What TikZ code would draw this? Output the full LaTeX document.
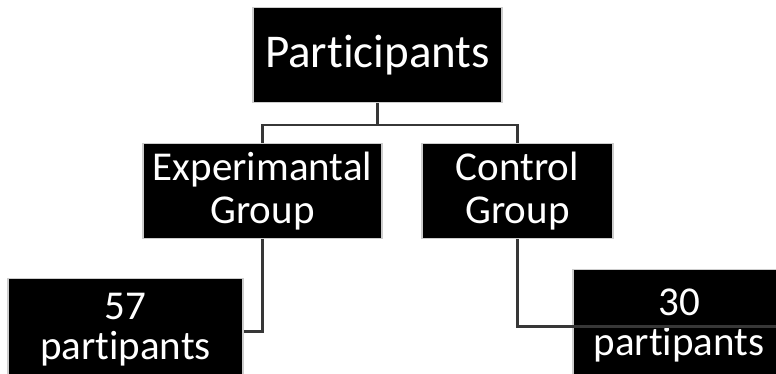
\documentclass[tikz,border=0pt]{standalone}
\usepackage{fontspec}
\setmainfont{Carlito}[Ligatures=NoCommon]
\usepackage{tikz}
\definecolor{boxedge}{RGB}{205,205,205}
\definecolor{linkgrey}{RGB}{55,55,55}

\tikzset{
  darkbox/.style={draw=boxedge, line width=1.2pt, fill=black, text=white,
    align=center, inner sep=0pt, anchor=north},
  link/.style={draw=linkgrey, line width=2.4pt}
}

\begin{document}
\begin{tikzpicture}[x=1pt, y=-1pt]
    \useasboundingbox (0,0) rectangle (776,373);
    % boxes
    \path (377.5,7) node[darkbox, minimum width=249, minimum height=95,
      font=\fontsize{47}{50}\selectfont] (part) {Participants};
    \path (262.5,143) node[darkbox, minimum width=239, minimum height=95,
      font=\fontsize{41}{43}\selectfont] (exp) {Experimantal\\Group};
    \path (517.5,143) node[darkbox, minimum width=191, minimum height=95,
      font=\fontsize{41}{43}\selectfont] (ctrl) {Control\\Group};
    \path (125.5,278) node[darkbox, minimum width=235, minimum height=103,
      font=\fontsize{41}{40}\selectfont] (n57) {57\\partipants};
    \path (679,269) node[darkbox, minimum width=212, minimum height=112,
      font=\fontsize{41}{40}\selectfont] (n30) {30\\partipants};
    % connectors
    \draw[link] (part.south) -- ++(0,22) -| (exp.north);
    \draw[link] (part.south) -- ++(0,22) -| (ctrl.north);
    \draw[link] (exp.south) |- ([yshift=-1.5]n57.east);
    \draw[link] (ctrl.south) |- ([yshift=-1]n30.east);
\end{tikzpicture}
\end{document}
